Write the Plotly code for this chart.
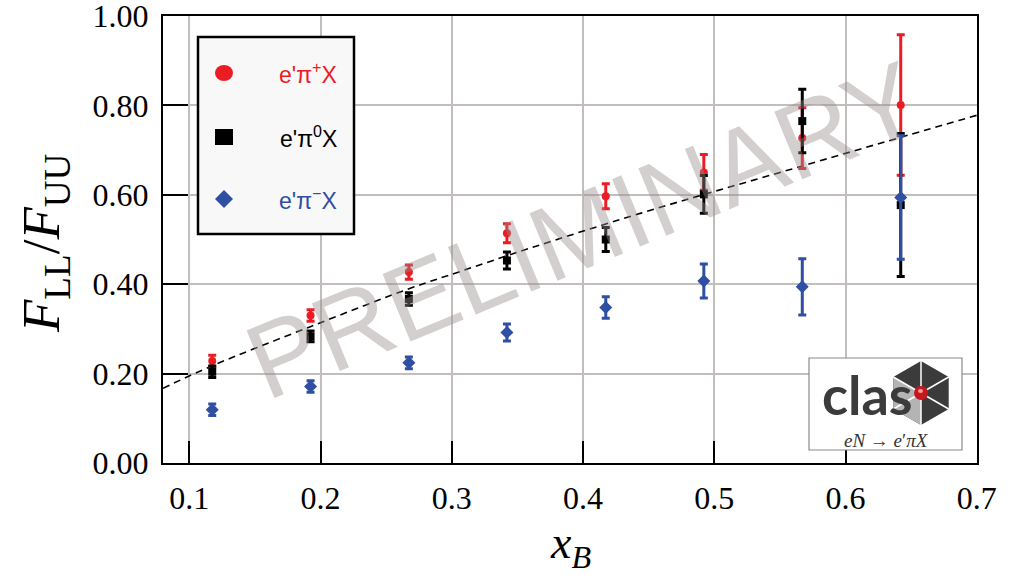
import plotly.graph_objects as go
import math

# ---------------- data ----------------
x_b = [0.1175, 0.1924, 0.2673, 0.342, 0.4173, 0.492, 0.567, 0.642]

pip_val = [0.228, 0.330, 0.427, 0.514, 0.597, 0.650, 0.727, 0.801]
pip_err = [0.013, 0.013, 0.016, 0.021, 0.028, 0.040, 0.068, 0.157]

pi0_val = [0.204, 0.283, 0.367, 0.453, 0.500, 0.601, 0.765, 0.577]
pi0_err = [0.013, 0.012, 0.014, 0.019, 0.027, 0.042, 0.071, 0.160]

pim_val = [0.119, 0.171, 0.224, 0.292, 0.348, 0.407, 0.394, 0.594]
pim_err = [0.013, 0.013, 0.013, 0.019, 0.024, 0.038, 0.063, 0.138]

# dashed curve
curve_x = [0.08, 0.116, 0.1923, 0.2684, 0.306, 0.3593, 0.4435, 0.5652, 0.6869, 0.70]
curve_y = [0.167, 0.2155, 0.305, 0.3908, 0.428, 0.4803, 0.5585, 0.663, 0.767, 0.778]

x_ticks = [0.1, 0.2, 0.3, 0.4, 0.5, 0.6, 0.7]
y_ticks = [0.0, 0.2, 0.4, 0.6, 0.8, 1.0]
y_tick_text = ["0.00", "0.20", "0.40", "0.60", "0.80", "1.00"]

series_names = ["e'π<sup>+</sup>X", "e'π<sup>0</sup>X", "e'π<sup>−</sup>X"]

RED = "#ec1c24"
BLACK = "#000000"
BLUE = "#2f4fa2"

# ---------------- layout geometry ----------------
W, H = 1013, 578
L, R, T, B = 163, 36, 16, 115
PW, PH = W - L - R, H - T - B


def dx(px):
    return (px - L) / PW


def dy(py):
    return (T + PH - py) / PH


fig = go.Figure()

fig.add_trace(go.Scatter(
    x=curve_x, y=curve_y, mode="lines",
    line=dict(color="black", width=1.6, dash="7px,5px", shape="spline"),
    showlegend=False, hoverinfo="skip"))

for vals, errs, col, sym, sz in [
    (pip_val, pip_err, RED, "circle", 8),
    (pi0_val, pi0_err, BLACK, "square", 8),
    (pim_val, pim_err, BLUE, "diamond", 10),
]:
    fig.add_trace(go.Scatter(
        x=x_b, y=vals, mode="markers",
        marker=dict(symbol=sym, size=sz, color=col, line=dict(width=0)),
        error_y=dict(type="data", array=errs, visible=True, color=col,
                     thickness=3, width=4),
        showlegend=False))

shapes = []
annotations = []

# ---------------- legend (drawn by hand) ----------------
shapes.append(dict(type="rect", xref="x domain", yref="y domain",
                   x0=dx(198), x1=dx(354), y0=dy(234), y1=dy(37),
                   fillcolor="#f8f8f8", line=dict(color="black", width=2.5),
                   layer="above"))
leg_y = [73, 137, 199]
leg_col = [RED, BLACK, BLUE]
mx = dx(224)
shapes.append(dict(type="circle", xref="x domain", yref="y domain",
                   xsizemode="pixel", ysizemode="pixel",
                   xanchor=mx, yanchor=dy(leg_y[0]),
                   x0=-9, x1=9, y0=-8, y1=8,
                   fillcolor=RED, line=dict(width=0), layer="above"))
shapes.append(dict(type="rect", xref="x domain", yref="y domain",
                   xsizemode="pixel", ysizemode="pixel",
                   xanchor=mx, yanchor=dy(leg_y[1]),
                   x0=-9, x1=9, y0=-8, y1=8,
                   fillcolor=BLACK, line=dict(width=0), layer="above"))
shapes.append(dict(type="path", xref="x domain", yref="y domain",
                   xsizemode="pixel", ysizemode="pixel",
                   xanchor=mx, yanchor=dy(leg_y[2]),
                   path="M -9 0 L 0 9 L 9 0 L 0 -9 Z",
                   fillcolor=BLUE, line=dict(width=0), layer="above"))
for name, yy, col in zip(series_names, leg_y, leg_col):
    annotations.append(dict(xref="x domain", yref="y domain",
                            x=dx(339), y=dy(yy), xanchor="right", yanchor="middle",
                            text=name, showarrow=False,
                            font=dict(family="Liberation Sans", size=23, color=col)))

# ---------------- CLAS logo box ----------------
shapes.append(dict(type="rect", xref="x domain", yref="y domain",
                   x0=dx(809), x1=dx(962), y0=dy(450), y1=dy(358),
                   fillcolor="white", line=dict(color="#8a8a8a", width=1.2),
                   layer="above"))
hx, hy, hr = dx(921), dy(393), 32
verts = [(hr * math.cos(math.radians(a)), hr * math.sin(math.radians(a)))
         for a in [90, 150, 210, 270, 330, 30]]
hexpath = "M " + " L ".join(f"{vx:.2f} {vy:.2f}" for vx, vy in verts) + " Z"
shapes.append(dict(type="path", xref="x domain", yref="y domain",
                   xsizemode="pixel", ysizemode="pixel", xanchor=hx, yanchor=hy,
                   path=hexpath, fillcolor="#3b3b3b", line=dict(width=0),
                   layer="above"))
lg = [verts[1], verts[2], verts[3]]
shapes.append(dict(type="path", xref="x domain", yref="y domain",
                   xsizemode="pixel", ysizemode="pixel", xanchor=hx, yanchor=hy,
                   path=f"M 0 0 L {lg[0][0]:.2f} {lg[0][1]:.2f} L {lg[1][0]:.2f} {lg[1][1]:.2f} "
                        f"L {lg[2][0]:.2f} {lg[2][1]:.2f} Z",
                   fillcolor="#b4b4b4", line=dict(width=0), layer="above"))
for vx, vy in verts:
    shapes.append(dict(type="line", xref="x domain", yref="y domain",
                       xsizemode="pixel", ysizemode="pixel", xanchor=hx, yanchor=hy,
                       x0=0, y0=0, x1=vx, y1=vy,
                       line=dict(color="white", width=1.5), layer="above"))
shapes.append(dict(type="circle", xref="x domain", yref="y domain",
                   xsizemode="pixel", ysizemode="pixel", xanchor=hx, yanchor=hy,
                   x0=-7, x1=7, y0=-7, y1=7,
                   fillcolor="#c8161e", line=dict(width=0), layer="above"))
shapes.append(dict(type="circle", xref="x domain", yref="y domain",
                   xsizemode="pixel", ysizemode="pixel", xanchor=hx, yanchor=hy,
                   x0=-3, x1=2, y0=0, y1=4,
                   fillcolor="#f3a0a0", line=dict(width=0), layer="above"))
annotations.append(dict(xref="x domain", yref="y domain", x=dx(867), y=dy(394),
                        xanchor="center", yanchor="middle", showarrow=False,
                        text="clas",
                        font=dict(family="Lato", size=54, color="#3b3b3b", weight=700)))
annotations.append(dict(xref="x domain", yref="y domain", x=dx(886), y=dy(440),
                        xanchor="center", yanchor="middle", showarrow=False,
                        text="<i>eN</i> → <i>e</i>′<i>πX</i>",
                        font=dict(family="Liberation Serif", size=19, color="#333333")))

# ---------------- watermark ----------------
annotations.append(dict(xref="x domain", yref="y domain", x=dx(583), y=dy(230),
                        xanchor="center", yanchor="middle", showarrow=False,
                        text="PRELIMINARY", textangle=-22.5,
                        font=dict(family="Liberation Sans", size=106,
                                  color="rgba(150,140,138,0.42)")))

# ---------------- axis titles ----------------
annotations.append(dict(xref="x domain", yref="y domain", x=dx(45), y=dy(244),
                        xanchor="center", yanchor="middle", showarrow=False,
                        textangle=-90,
                        text="<i>F</i><sub>LL</sub>/<i>F</i><sub>UU</sub>",
                        font=dict(family="Liberation Serif", size=53, color="black")))
annotations.append(dict(xref="x domain", yref="y domain", x=dx(570), y=dy(546),
                        xanchor="center", yanchor="middle", showarrow=False,
                        text="<i>x</i><sub><i>B</i></sub>",
                        font=dict(family="Liberation Serif", size=46, color="black")))

axis_common = dict(
    showgrid=True, gridcolor="#c2bebe", gridwidth=1.6,
    zeroline=False, showline=True, linecolor="black", linewidth=2, mirror=True,
    ticks="inside", tickcolor="black", tickwidth=2,
    ticklabeloverflow="allow", automargin=False,
    tickfont=dict(family="Liberation Serif", size=32, color="black"),
)

fig.update_layout(
    width=W, height=H,
    margin=dict(l=L, r=R, t=T, b=B),
    paper_bgcolor="white", plot_bgcolor="white",
    xaxis=dict(range=[0.08, 0.7001], tickvals=x_ticks, tickformat=".1f",
               ticklen=22, ticklabelstandoff=6, **axis_common),
    yaxis=dict(range=[-0.0002, 1.0002], tickvals=y_ticks, ticktext=y_tick_text,
               ticklen=25, ticklabelstandoff=6, **axis_common),
    shapes=shapes, annotations=annotations,
    showlegend=False,
)

fig.write_html("out.html")
